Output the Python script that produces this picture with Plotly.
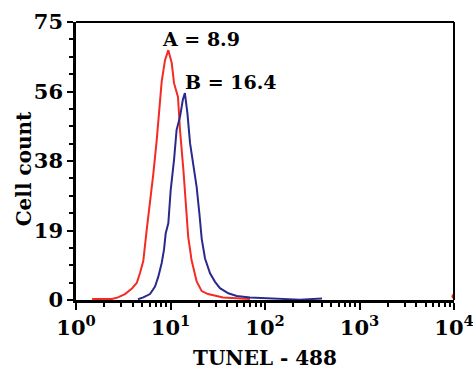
import math
import plotly.graph_objects as go

# ---- data ----
red_x = [1.48, 2.03, 2.40, 2.78, 3.30, 3.88, 4.39, 4.76, 5.15, 5.60, 6.07, 6.58, 7.14, 7.61, 8.07,
         8.75, 9.48, 10.3, 10.9, 12.0, 12.6, 13.7, 14.6, 15.4, 16.7, 18.9, 21.4, 24.9, 30.8,
         35.9, 50.2, 69.4]
red_y = [0.3, 0.4, 0.3, 0.7, 1.6, 3.0, 4.6, 7.3, 10.5, 18.9, 26, 34, 43, 52, 59,
         64.7, 67.4, 64, 58.5, 54.8, 45.9, 35, 26, 17, 10.8, 5.0, 2.4, 1.6, 1.1,
         0.7, 0.5, 0.3]
red_overflow_x = [10000]
red_overflow_y = [1.0]

blue_x = [4.53, 5.15, 6.07, 6.86, 7.43, 8.07, 8.53, 8.90, 9.48, 10.05, 10.9, 11.6, 12.6, 13.5,
          14.2, 15.1, 16.1, 17.4, 18.9, 20.2, 21.4, 23.2, 26.2, 29.6, 33.4, 40.9, 50.2, 69.4,
          95.3, 121.5, 234, 401]
blue_y = [0.2, 0.7, 1.6, 3.6, 6.3, 10, 13.5, 18, 20.7, 29.7, 37.8, 45.9, 49.4, 54,
          55.8, 50.4, 42.3, 36.9, 30.5, 23.4, 16.5, 11.2, 7.2, 4.9, 3.2, 1.8, 1.1, 0.7,
          0.5, 0.4, 0.1, 0.4]

x_tickvals = [1, 10, 100, 1000, 10000]
x_ticktext = ["10<sup>0</sup>", "10<sup>1</sup>", "10<sup>2</sup>", "10<sup>3</sup>", "10<sup>4</sup>"]
y_tickvals = [0, 18.75, 37.5, 56.25, 75]
y_ticktext = ["0", "19", "38", "56", "75"]

labels = ["A = 8.9", "B = 16.4"]
label_x = [21.0, 43.6]
label_y = [70.4, 58.8]

RED = "#f52a22"
BLUE = "#2a2a8c"
FONT = "DejaVu Serif"

x_minor = [k * 10 ** d for d in range(4) for k in range(2, 10)]
y_minor = [y_tickvals[i] + j * (y_tickvals[i + 1] - y_tickvals[i]) / 4
           for i in range(len(y_tickvals) - 1) for j in range(1, 4)]

fig = go.Figure()
fig.add_trace(go.Scatter(x=red_x, y=red_y, mode="lines",
                         line=dict(color=RED, width=2), showlegend=False))
fig.add_trace(go.Scatter(x=blue_x, y=blue_y, mode="lines",
                         line=dict(color=BLUE, width=2), showlegend=False))
fig.add_trace(go.Scatter(x=red_overflow_x, y=red_overflow_y, mode="markers",
                         marker=dict(color=RED, size=5), showlegend=False, cliponaxis=True))

for t, xv, yv in zip(labels, label_x, label_y):
    fig.add_annotation(x=math.log10(xv), y=yv, xref="x", yref="y", text=t, showarrow=False,
                       font=dict(family=FONT, size=19, color="black", weight="bold"))

# y-axis title as a rotated annotation for precise placement
fig.add_annotation(x=-0.138, y=0.473, xref="paper", yref="paper", text="Cell count",
                   textangle=-90, showarrow=False, xanchor="center", yanchor="middle",
                   font=dict(family=FONT, size=20, color="black", weight="bold"))

fig.update_xaxes(type="log", range=[0, 4], tickmode="array", tickvals=x_tickvals, ticktext=x_ticktext,
                 ticks="outside", ticklen=7, tickwidth=2, tickcolor="black",
                 showline=True, linewidth=2.5, linecolor="black", showgrid=False, zeroline=False,
                 automargin=False, ticklabeloverflow="allow",
                 tickfont=dict(family=FONT, size=21, color="black", weight="bold"),
                 minor=dict(ticks="outside", ticklen=4, tickwidth=1.5, tickcolor="black",
                            tickmode="array", tickvals=x_minor, showgrid=False),
                 title=dict(text="TUNEL - 488",
                            font=dict(family=FONT, size=20, color="black", weight="bold")))
fig.update_yaxes(range=[0, 75], tickmode="array", tickvals=y_tickvals, ticktext=y_ticktext,
                 ticks="outside", ticklen=6, tickwidth=2, tickcolor="black",
                 showline=True, linewidth=2.5, linecolor="black", showgrid=False, zeroline=False,
                 automargin=False, ticklabeloverflow="allow",
                 tickfont=dict(family=FONT, size=21, color="black", weight="bold"),
                 minor=dict(ticks="outside", ticklen=4, tickwidth=1.5, tickcolor="black",
                            tickmode="array", tickvals=y_minor, showgrid=False))

fig.add_shape(type="line", xref="paper", yref="paper", x0=0, x1=1, y0=1, y1=1,
              line=dict(color="black", width=2))
fig.add_shape(type="line", xref="paper", yref="paper", x0=1, x1=1, y0=0, y1=1,
              line=dict(color="black", width=2))

fig.update_layout(width=473, height=370, margin=dict(l=76, r=19, t=22, b=70),
                  plot_bgcolor="white", paper_bgcolor="white")

fig.write_html("out.html", config={"displayModeBar": False},
               post_script="document.body.style.margin='0';document.body.style.overflow='hidden';")
